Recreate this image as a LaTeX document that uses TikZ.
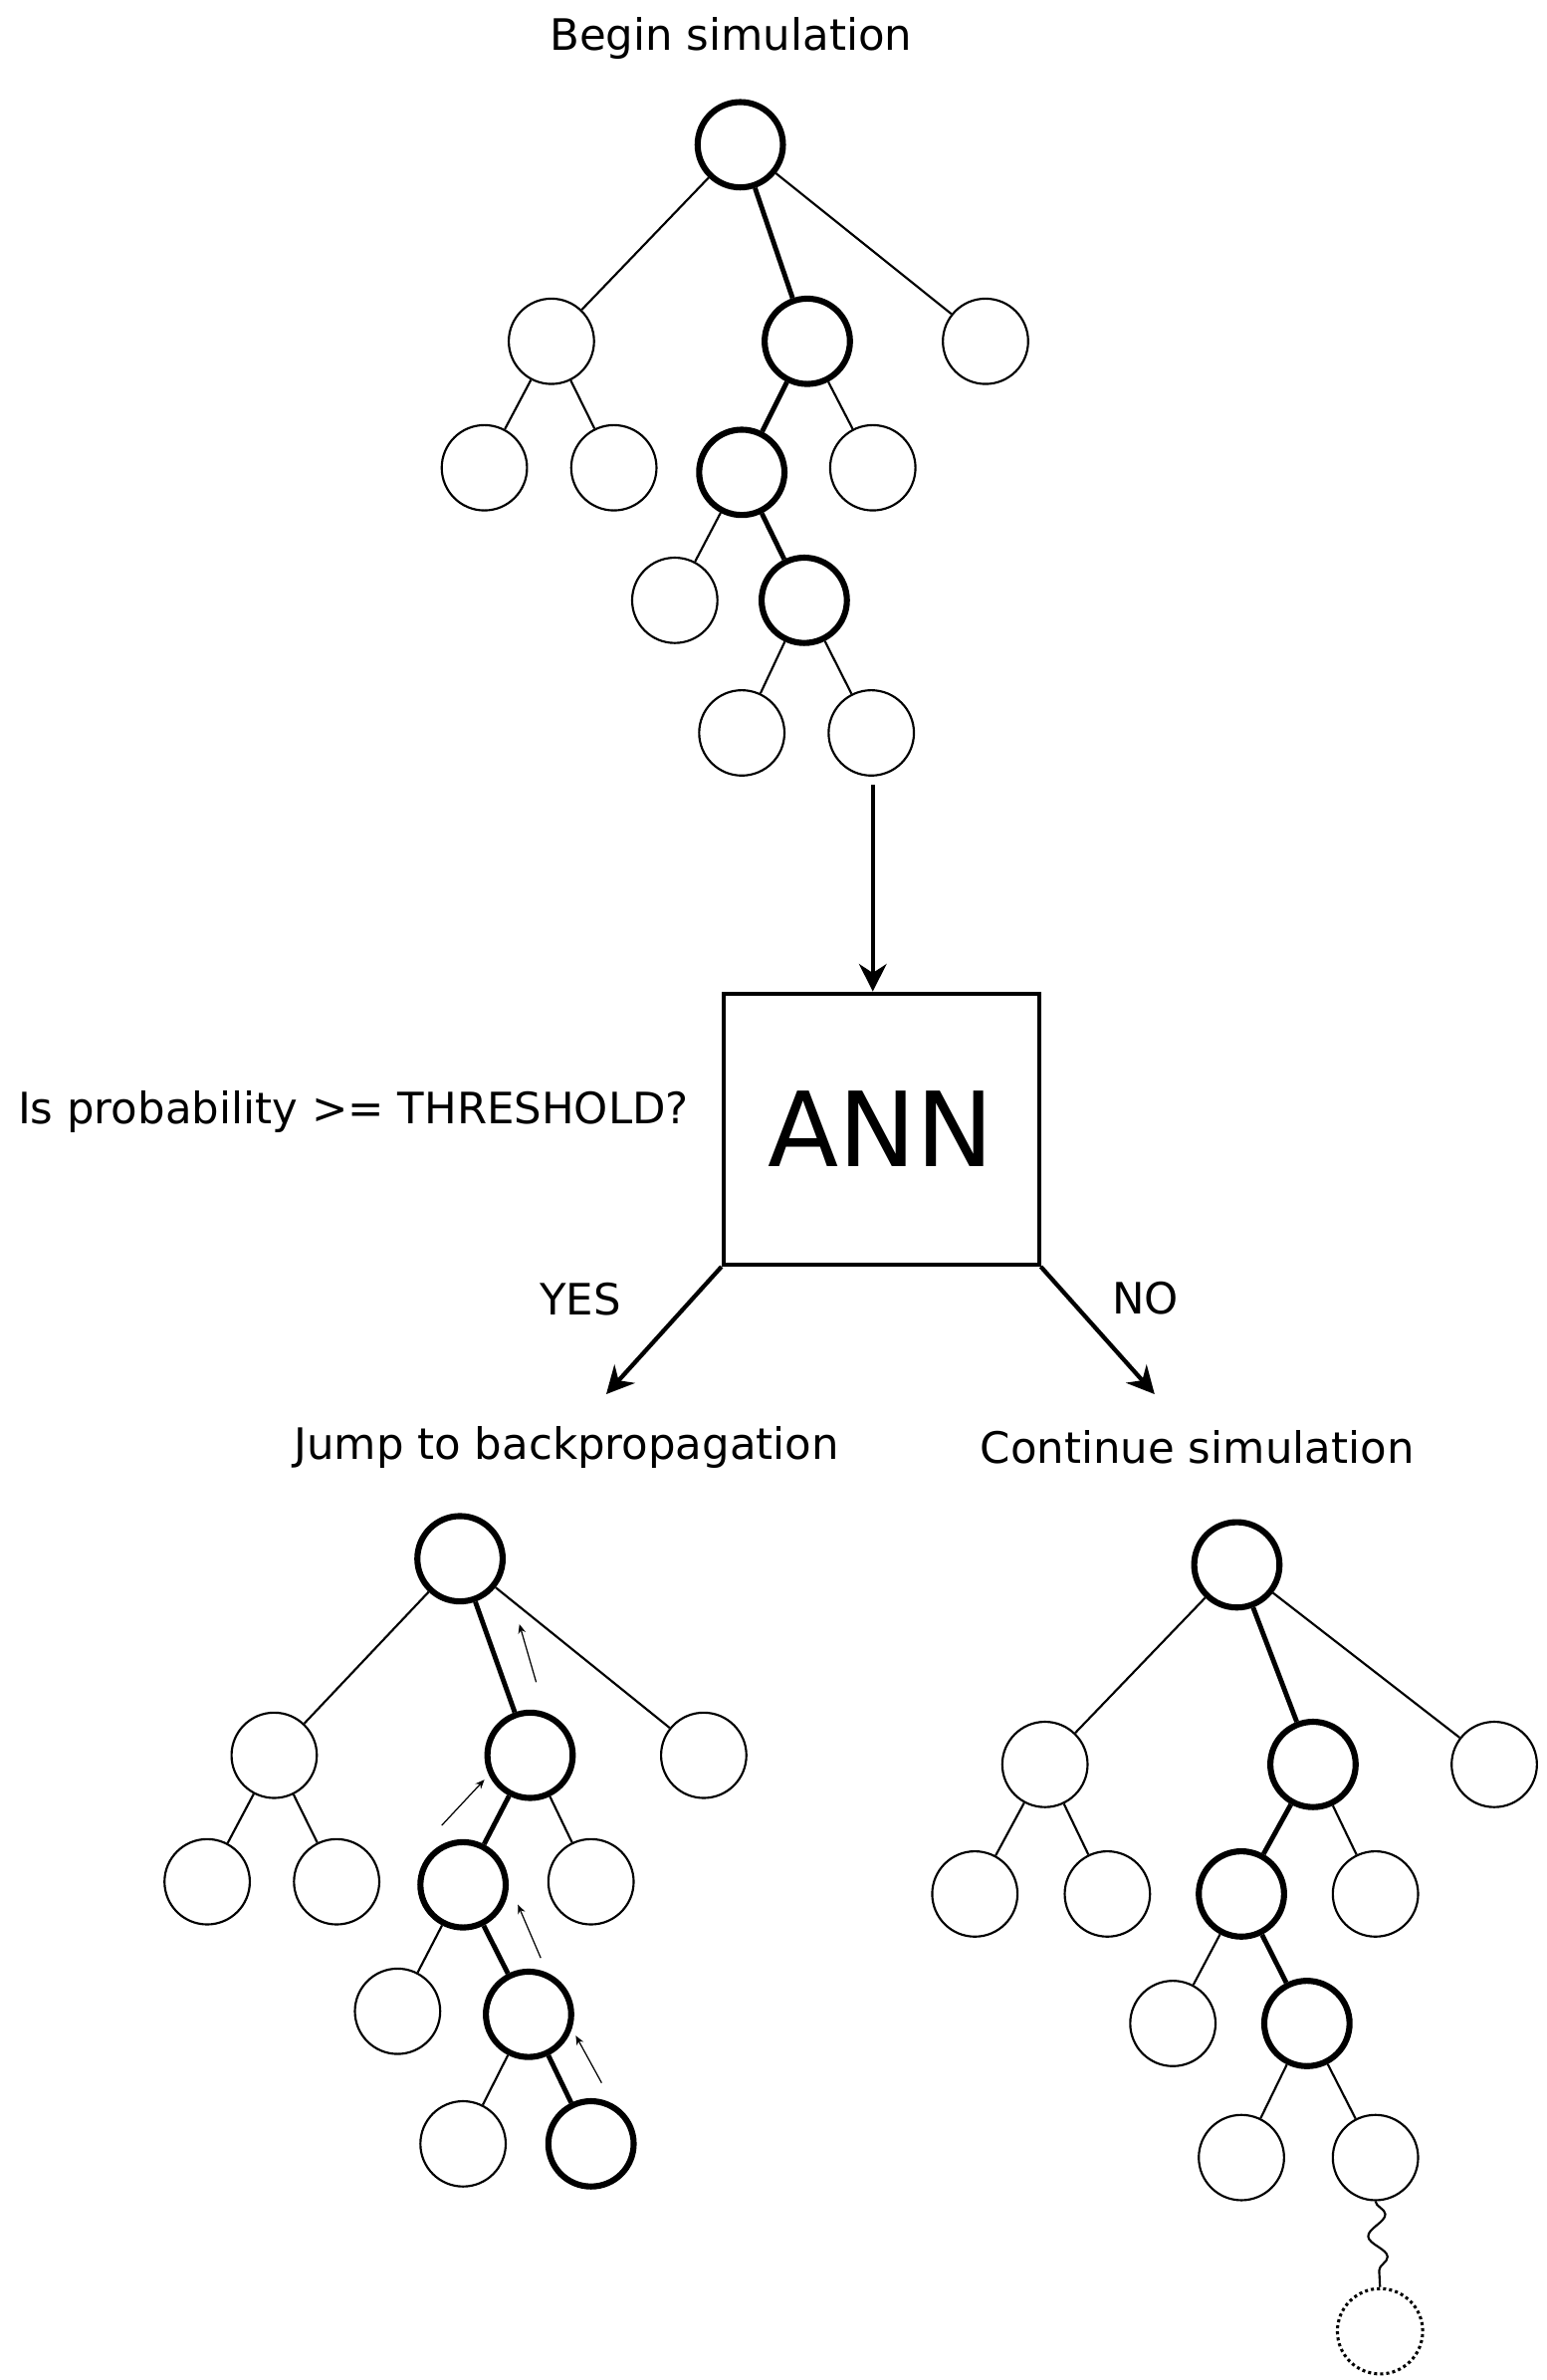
\documentclass[tikz,border=0pt]{standalone}
\usepackage{fontspec}
\setmainfont{DejaVu Sans}
\usetikzlibrary{decorations.pathmorphing,arrows.meta}
\begin{document}
\begin{tikzpicture}[x=0.5pt,y=-0.5pt,
  n/.style={circle,draw,line width=0.7pt,minimum size=28pt,inner sep=0pt},
  h/.style={n,line width=2pt},
  e/.style={line width=0.7pt},
  he/.style={line width=1.6pt},
  big/.style={-{Stealth[length=9pt,width=9pt]},line width=1.4pt},
  sm/.style={-{Stealth[length=3pt,width=2.5pt]},line width=0.4pt},
  lab/.style={font=\fontsize{14.2}{16}\selectfont}]
\useasboundingbox (0,0) rectangle (1015,1562);
% top tree
\node[h] (a) at (486,95) {};
\node[n] (a1) at (362,224) {}; \node[h] (a2) at (530,224) {}; \node[n] (a3) at (647,224) {};
\node[n] (a11) at (318,307) {}; \node[n] (a12) at (403,307) {};
\node[h] (a21) at (487,310) {}; \node[n] (a22) at (573,307) {};
\node[n] (a211) at (443,394) {}; \node[h] (a212) at (528,394) {};
\node[n] (a2121) at (487,481) {}; \node[n] (a2122) at (572,481) {};
\draw[e] (a)--(a1); \draw[he] (a)--(a2); \draw[e] (a)--(a3);
\draw[e] (a1)--(a11); \draw[e] (a1)--(a12);
\draw[he] (a2)--(a21); \draw[e] (a2)--(a22);
\draw[e] (a21)--(a211); \draw[he] (a21)--(a212);
\draw[e] (a212)--(a2121); \draw[e] (a212)--(a2122);
\node[lab] (t1) at (480,25) {Begin simulation};
\coordinate (s1) at (573,515);
% ANN
\node[draw,line width=1.3pt,minimum width=103.5pt,minimum height=89pt,inner sep=0pt,font=\fontsize{34}{38}\selectfont] (ann) at (578.5,741) {ANN};
\draw[big] (s1) -- (ann.north-|s1);
\node[lab] (q) at (232,730) {Is probability >= THRESHOLD?};
\coordinate (y) at (398,915); \coordinate (no) at (758,915);
\draw[big] (ann.south west) -- (y);
\draw[big] (ann.south east) -- (no);
\node[lab] (yes) at (381,853) {YES};
\node[lab] (nol) at (752,852) {NO};
\node[lab] (j) at (372,950) {Jump to backpropagation};
\node[lab] (c) at (786,950) {Continue simulation};
% bottom left
\node[h] (b) at (302,1023) {};
\node[n] (b1) at (180,1152) {}; \node[h] (b2) at (348,1152) {}; \node[n] (b3) at (462,1152) {};
\node[n] (b11) at (136,1235) {}; \node[n] (b12) at (221,1235) {};
\node[h] (b21) at (304,1237) {}; \node[n] (b22) at (388,1235) {};
\node[n] (b211) at (261,1320) {}; \node[h] (b212) at (347,1322) {};
\node[n] (b2121) at (304,1407) {}; \node[h] (b2122) at (388,1407) {};
\draw[e] (b)--(b1); \draw[he] (b)--(b2); \draw[e] (b)--(b3);
\draw[e] (b1)--(b11); \draw[e] (b1)--(b12);
\draw[he] (b2)--(b21); \draw[e] (b2)--(b22);
\draw[e] (b21)--(b211); \draw[he] (b21)--(b212);
\draw[e] (b212)--(b2121); \draw[he] (b212)--(b2122);
\coordinate (p1) at (352,1104); \coordinate (q1) at (341,1066);
\coordinate (p2) at (290,1198); \coordinate (q2) at (318,1168);
\coordinate (p3) at (355,1285); \coordinate (q3) at (340,1250);
\coordinate (p4) at (395,1367); \coordinate (q4) at (378,1336);
\draw[sm] (p1)--(q1); \draw[sm] (p2)--(q2); \draw[sm] (p3)--(q3); \draw[sm] (p4)--(q4);
% bottom right
\node[h] (c0) at (812,1027) {};
\node[n] (c1) at (686,1158) {}; \node[h] (c2) at (862,1158) {}; \node[n] (c3) at (981,1158) {};
\node[n] (c11) at (640,1243) {}; \node[n] (c12) at (727,1243) {};
\node[h] (c21) at (815,1243) {}; \node[n] (c22) at (903,1243) {};
\node[n] (c211) at (770,1328) {}; \node[h] (c212) at (858,1328) {};
\node[n] (c2121) at (815,1416) {}; \node[n] (c2122) at (903,1416) {};
\node[circle,draw,densely dotted,line width=1pt,minimum size=28pt,inner sep=0pt] (d) at (906,1530) {};
\draw[e] (c0)--(c1); \draw[he] (c0)--(c2); \draw[e] (c0)--(c3);
\draw[e] (c1)--(c11); \draw[e] (c1)--(c12);
\draw[he] (c2)--(c21); \draw[e] (c2)--(c22);
\draw[e] (c21)--(c211); \draw[he] (c21)--(c212);
\draw[e] (c212)--(c2121); \draw[e] (c212)--(c2122);
\draw[e,decorate,decoration={snake,segment length=14pt,amplitude=3pt}] (c2122.south) -- (d.north);
\end{tikzpicture}
\end{document}
